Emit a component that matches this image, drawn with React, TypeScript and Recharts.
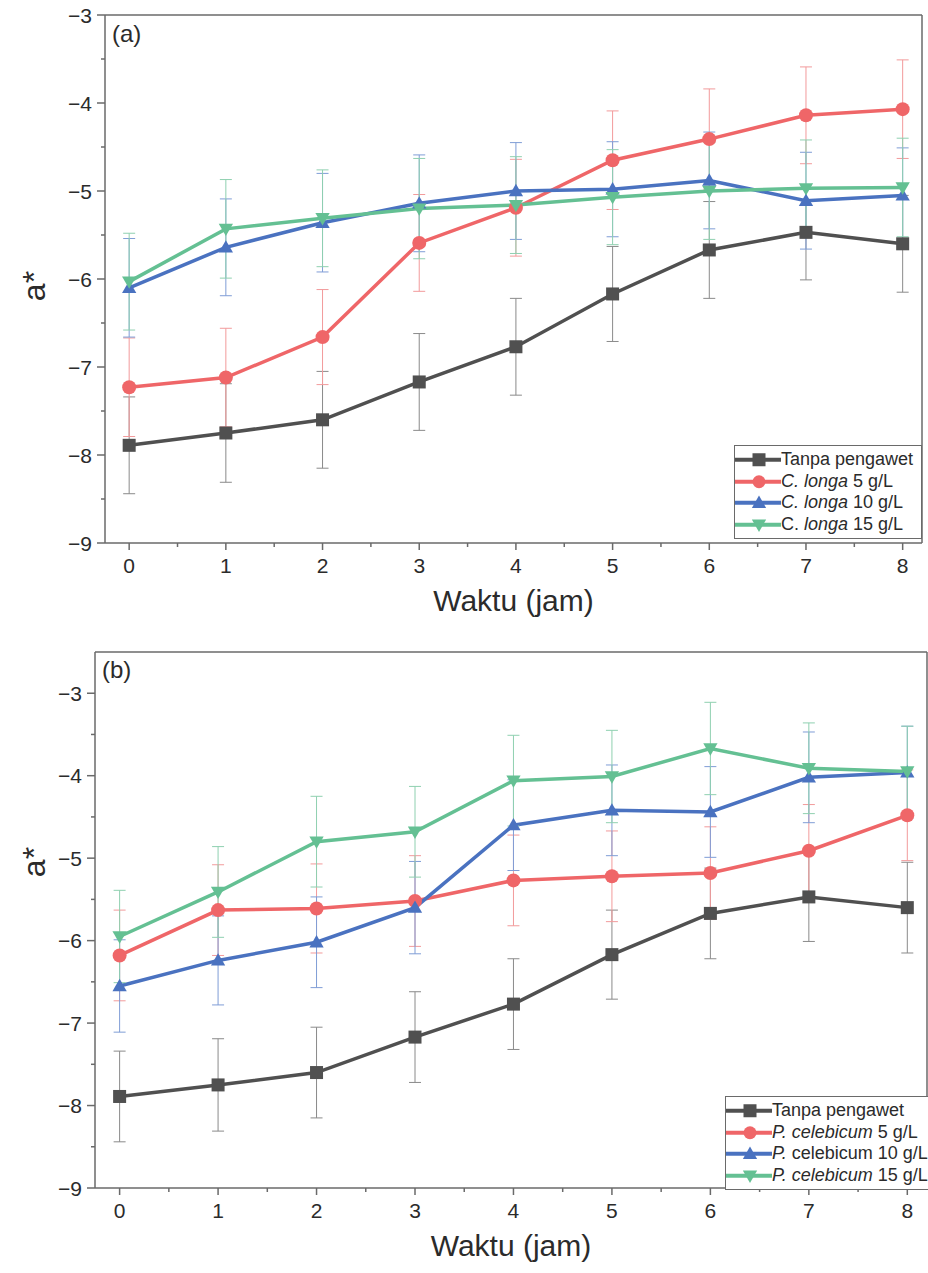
import React from 'react';
import { LineChart, Line, XAxis, YAxis, ErrorBar, ReferenceLine, Legend, Label } from 'recharts';

const FONT = '"Liberation Sans", Arial, sans-serif';
const AXIS = '#6a6a6a';
const TEXT = '#2b2b2b';

// storage time (hours)
const hours = [0, 1, 2, 3, 4, 5, 6, 7, 8];
const hourTicks = [0, 0.5, 1, 1.5, 2, 2.5, 3, 3.5, 4, 4.5, 5, 5.5, 6, 6.5, 7, 7.5, 8];
const aTicksTop = [-9, -8.5, -8, -7.5, -7, -6.5, -6, -5.5, -5, -4.5, -4, -3.5, -3];
const aTicksBottom = [-9, -8.5, -8, -7.5, -7, -6.5, -6, -5.5, -5, -4.5, -4, -3.5, -3];

// a* of the control (no preservative), used in both panels
const control = [-7.89, -7.75, -7.6, -7.17, -6.77, -6.17, -5.67, -5.47, -5.6];
const controlErr = [0.55, 0.56, 0.55, 0.55, 0.55, 0.54, 0.55, 0.54, 0.55];

// C. longa
const longa5 = [-7.23, -7.12, -6.66, -5.59, -5.19, -4.65, -4.41, -4.14, -4.07];
const longa5Err = [0.56, 0.56, 0.54, 0.55, 0.55, 0.56, 0.57, 0.55, 0.56];
const longa10 = [-6.1, -5.64, -5.36, -5.14, -5.0, -4.98, -4.88, -5.11, -5.05];
const longa10Err = [0.56, 0.55, 0.56, 0.55, 0.55, 0.54, 0.55, 0.55, 0.54];
const longa15 = [-6.03, -5.43, -5.31, -5.2, -5.16, -5.07, -5.0, -4.97, -4.96];
const longa15Err = [0.55, 0.56, 0.55, 0.57, 0.55, 0.54, 0.55, 0.55, 0.56];

// P. celebicum
const celebicum5 = [-6.18, -5.63, -5.61, -5.52, -5.27, -5.22, -5.18, -4.91, -4.48];
const celebicum5Err = [0.55, 0.55, 0.54, 0.55, 0.55, 0.55, 0.56, 0.56, 0.55];
const celebicum10 = [-6.55, -6.24, -6.02, -5.6, -4.6, -4.42, -4.44, -4.02, -3.96];
const celebicum10Err = [0.56, 0.54, 0.55, 0.56, 0.55, 0.55, 0.55, 0.55, 0.56];
const celebicum15 = [-5.95, -5.41, -4.8, -4.68, -4.06, -4.01, -3.67, -3.91, -3.95];
const celebicum15Err = [0.56, 0.55, 0.55, 0.55, 0.55, 0.56, 0.56, 0.55, 0.55];

type Shape = 'square' | 'circle' | 'up' | 'down';

interface SeriesDef {
  key: string;
  values: number[];
  errors: number[];
  color: string;
  errColor: string;
  shape: Shape;
  label: React.ReactNode;
}

const Marker = ({ shape, cx, cy, size, fill }: { shape: Shape; cx: number; cy: number; size: number; fill: string }) => {
  const h = size / 2;
  if (shape === 'square') return <rect x={cx - h} y={cy - h} width={size} height={size} fill={fill} />;
  if (shape === 'circle') return <circle cx={cx} cy={cy} r={h} fill={fill} />;
  if (shape === 'up')
    return <polygon points={`${cx},${cy - h * 1.1} ${cx + h * 1.1},${cy + h * 0.8} ${cx - h * 1.1},${cy + h * 0.8}`} fill={fill} />;
  return <polygon points={`${cx},${cy + h * 1.1} ${cx + h * 1.1},${cy - h * 0.8} ${cx - h * 1.1},${cy - h * 0.8}`} fill={fill} />;
};

const fmt = (v: number) => String(v).replace('-', '\u2212');

const XTick = ({ x, y, payload }: any) => {
  const major = Number.isInteger(payload.value);
  return (
    <g>
      <line x1={x} x2={x} y1={y} y2={y + (major ? 7 : 4)} stroke={AXIS} strokeWidth={1.5} />
      {major && (
        <text x={x} y={y + 30} textAnchor="middle" fontSize={21} fill={TEXT} fontFamily={FONT}>
          {payload.value}
        </text>
      )}
    </g>
  );
};

const YTick = ({ x, y, payload }: any) => {
  const major = Number.isInteger(payload.value);
  return (
    <g>
      <line x1={x - (major ? 8 : 4)} x2={x} y1={y} y2={y} stroke={AXIS} strokeWidth={1.5} />
      {major && (
        <text x={x - 13} y={y} dy="0.36em" textAnchor="end" fontSize={21} fill={TEXT} fontFamily={FONT}>
          {fmt(payload.value)}
        </text>
      )}
    </g>
  );
};

const LegendBox = ({ series, rowH }: { series: SeriesDef[]; rowH: number }) => (
  <div
    style={{
      border: `1.5px solid ${AXIS}`,
      background: '#fff',
      padding: '3px 0',
      fontFamily: FONT,
      fontSize: 18,
      color: TEXT,
    }}
  >
    {series.map((s) => (
      <div key={s.key} style={{ display: 'flex', alignItems: 'center', height: rowH, whiteSpace: 'nowrap' }}>
        <svg width={46} height={rowH} style={{ flex: 'none' }}>
          <line x1={0} x2={46} y1={rowH / 2} y2={rowH / 2} stroke={s.color} strokeWidth={4} />
          <Marker shape={s.shape} cx={24} cy={rowH / 2} size={13} fill={s.color} />
        </svg>
        <span>{s.label}</span>
      </div>
    ))}
  </div>
);

interface PanelProps {
  tag: string;
  tagLeft: number;
  tagTop: number;
  height: number;
  margin: { top: number; right: number; bottom: number; left: number };
  yDomain: [number, number];
  yTicks: number[];
  yLabelX: number;
  yLabelY: number;
  series: SeriesDef[];
  legendLeft: number;
  legendTop: number;
  legendWidth: number;
  rowH: number;
}

const Panel = (p: PanelProps) => {
  const data = hours.map((t, i) => {
    const row: Record<string, number> = { t };
    p.series.forEach((s) => {
      row[s.key] = s.values[i];
      row[`${s.key}Err`] = s.errors[i];
    });
    return row;
  });

  return (
    <div style={{ position: 'relative', width: 928, height: p.height }}>
      <LineChart width={928} height={p.height} data={data} margin={p.margin}>
        <XAxis
          dataKey="t"
          type="number"
          domain={[-0.25, 8.2]}
          allowDataOverflow
          ticks={hourTicks}
          interval={0}
          tickSize={0}
          tickMargin={0}
          tickLine={false}
          tick={<XTick />}
          height={40}
          axisLine={{ stroke: AXIS, strokeWidth: 1.5 }}
        >
          <Label
            content={({ viewBox }: any) => (
              <text
                x={viewBox.x + viewBox.width / 2}
                y={viewBox.y + 68}
                textAnchor="middle"
                fontSize={30}
                fill={TEXT}
                fontFamily={FONT}
              >
                Waktu (jam)
              </text>
            )}
          />
        </XAxis>
        <YAxis
          type="number"
          domain={p.yDomain}
          allowDataOverflow
          ticks={p.yTicks}
          interval={0}
          tickSize={0}
          tickMargin={0}
          tickLine={false}
          tick={<YTick />}
          width={60}
          axisLine={{ stroke: AXIS, strokeWidth: 1.5 }}
        >
          <Label
            content={() => (
              <text
                x={p.yLabelX}
                y={p.yLabelY}
                transform={`rotate(-90 ${p.yLabelX} ${p.yLabelY})`}
                textAnchor="middle"
                fontSize={32}
                fill={TEXT}
                fontFamily={FONT}
              >
                a*
              </text>
            )}
          />
        </YAxis>
        {/* closing frame: top and right edges */}
        <ReferenceLine y={p.yDomain[1]} stroke={AXIS} strokeWidth={1.5} />
        <ReferenceLine x={8.2} stroke={AXIS} strokeWidth={1.5} />
        {p.series.map((s) => (
          <Line
            key={s.key}
            dataKey={s.key}
            stroke={s.color}
            strokeWidth={3.5}
            isAnimationActive={false}
            dot={(d: any) => (
              <g key={`${s.key}-${d.index}`}>
                <Marker shape={s.shape} cx={d.cx} cy={d.cy} size={s.shape === 'circle' ? 14 : 13} fill={s.color} />
              </g>
            )}
            activeDot={false}
          >
            <ErrorBar dataKey={`${s.key}Err`} direction="y" width={6} stroke={s.errColor} strokeWidth={1} />
          </Line>
        ))}
        <Legend
          layout="horizontal"
          verticalAlign="middle"
          align="center"
          wrapperStyle={{ left: p.legendLeft, top: p.legendTop, width: p.legendWidth }}
          content={() => <LegendBox series={p.series} rowH={p.rowH} />}
        />
      </LineChart>
      <div
        style={{
          position: 'absolute',
          left: p.tagLeft,
          top: p.tagTop,
          fontFamily: FONT,
          fontSize: 24,
          lineHeight: '24px',
          color: TEXT,
        }}
      >
        {p.tag}
      </div>
    </div>
  );
};

const BLACK = '#505050';
const RED = '#ef6668';
const BLUE = '#4a72c0';
const GREEN = '#64c093';

const controlSeries: SeriesDef = {
  key: 'control',
  values: control,
  errors: controlErr,
  color: BLACK,
  errColor: '#8a8a8a',
  shape: 'square',
  label: 'Tanpa pengawet',
};

const longaSeries: SeriesDef[] = [
  controlSeries,
  { key: 'l5', values: longa5, errors: longa5Err, color: RED, errColor: '#f29a9b', shape: 'circle', label: <><i>C. longa</i> 5 g/L</> },
  { key: 'l10', values: longa10, errors: longa10Err, color: BLUE, errColor: '#7f9dd6', shape: 'up', label: <><i>C. longa</i> 10 g/L</> },
  { key: 'l15', values: longa15, errors: longa15Err, color: GREEN, errColor: '#8fd0b0', shape: 'down', label: <>C. <i>longa</i> 15 g/L</> },
];

const celebicumSeries: SeriesDef[] = [
  controlSeries,
  { key: 'p5', values: celebicum5, errors: celebicum5Err, color: RED, errColor: '#f29a9b', shape: 'circle', label: <><i>P. celebicum</i> 5 g/L</> },
  { key: 'p10', values: celebicum10, errors: celebicum10Err, color: BLUE, errColor: '#7f9dd6', shape: 'up', label: <><i>P.</i> celebicum 10 g/L</> },
  { key: 'p15', values: celebicum15, errors: celebicum15Err, color: GREEN, errColor: '#8fd0b0', shape: 'down', label: <><i>P. celebicum</i> 15 g/L</> },
];

export default function App() {
  return (
    <div
      style={{
        position: 'absolute',
        left: 0,
        top: 0,
        width: 928,
        height: 1273,
        overflow: 'hidden',
        background: '#fff',
      }}
    >
      <Panel
        tag="(a)"
        tagLeft={112}
        tagTop={22}
        height={640}
        margin={{ top: 15, right: 6, bottom: 57, left: 45 }}
        yDomain={[-9, -3]}
        yTicks={aTicksTop}
        yLabelX={45}
        yLabelY={286}
        series={longaSeries}
        legendLeft={734}
        legendTop={445}
        legendWidth={188}
        rowH={21.5}
      />
      <Panel
        tag="(b)"
        tagLeft={102}
        tagTop={18}
        height={633}
        margin={{ top: 12, right: 1, bottom: 45, left: 35 }}
        yDomain={[-9, -2.5]}
        yTicks={aTicksBottom}
        yLabelX={45}
        yLabelY={222}
        series={celebicumSeries}
        legendLeft={725}
        legendTop={456}
        legendWidth={208}
        rowH={21.5}
      />
    </div>
  );
}
